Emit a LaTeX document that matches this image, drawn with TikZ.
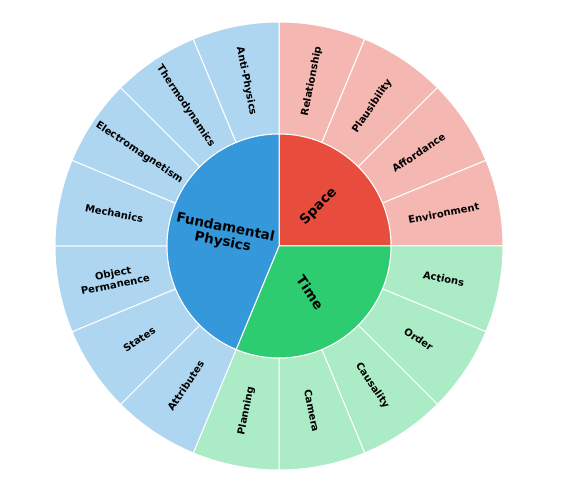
\documentclass[tikz,border=0pt]{standalone}
\usepackage{fontspec}
\setmainfont{DejaVu Sans}
\usepackage{tikz}
\usepackage{xcolor}

\definecolor{spacered}{HTML}{E74C3C}
\definecolor{spacelight}{HTML}{F5B7B1}
\definecolor{timegreen}{HTML}{2ECC71}
\definecolor{timelight}{HTML}{ABEBC6}
\definecolor{physblue}{HTML}{3498DB}
\definecolor{physlight}{HTML}{AED6F1}

\begin{document}
\begin{tikzpicture}[
    x=1pt, y=1pt,
    seg/.style={draw=white, line width=1pt},
    outlbl/.style={font=\fontsize{10}{11.5}\selectfont\bfseries,
                   align=center, inner sep=0pt},
    inlbl/.style={font=\fontsize{13.5}{14.5}\selectfont\bfseries,
                  align=center, inner sep=0pt},
]
\useasboundingbox (0,0) rectangle (570,484);
\coordinate (c) at (279,238);

% Outer ring, 16 slices of 22.5 degrees, clockwise from the top
\foreach \name/\col [count=\i] in {
    Relationship/spacelight, Plausibility/spacelight, Affordance/spacelight,
    Environment/spacelight, Actions/timelight, Order/timelight,
    Causality/timelight, Camera/timelight, Planning/timelight,
    Attributes/physlight, States/physlight, {Object\\Permanence}/physlight,
    Mechanics/physlight, Electromagnetism/physlight,
    Thermodynamics/physlight, Anti-Physics/physlight} {
  \pgfmathsetmacro\a{90-22.5*(\i-1)}
  \pgfmathsetmacro\b{\a-22.5}
  \pgfmathsetmacro\m{\a-11.25}
  \pgfmathsetmacro\rot{ifthenelse(cos(\m)<0,\m+180,\m)}
  \filldraw[seg, fill=\col] ([shift={(\a:112)}]c)
      arc[start angle=\a, end angle=\b, radius=112]
      -- ([shift={(\b:224)}]c)
      arc[start angle=\b, end angle=\a, radius=224] -- cycle;
  \node[outlbl, rotate=\rot] (out\i) at ([shift={(\m:168)}]c) {\name};
}

% Inner ring
\filldraw[seg, fill=spacered] (c) -- ++(0:112)
    arc[start angle=0, end angle=90, radius=112] -- cycle;
\filldraw[seg, fill=timegreen] (c) -- ++(0:112)
    arc[start angle=0, end angle=-112.5, radius=112] -- cycle;
\filldraw[seg, fill=physblue] (c) -- ++(90:112)
    arc[start angle=90, end angle=247.5, radius=112] -- cycle;

\node[inlbl, rotate=45] (space) at ([shift={(45:56)}]c) {Space};
\node[inlbl, rotate=-56.25] (time) at ([shift={(-56.25:56)}]c) {Time};
\node[inlbl, rotate=-11.25] (phys) at ([shift={(168.75:56)}]c)
     {Fundamental\\Physics};

\end{tikzpicture}
\end{document}
